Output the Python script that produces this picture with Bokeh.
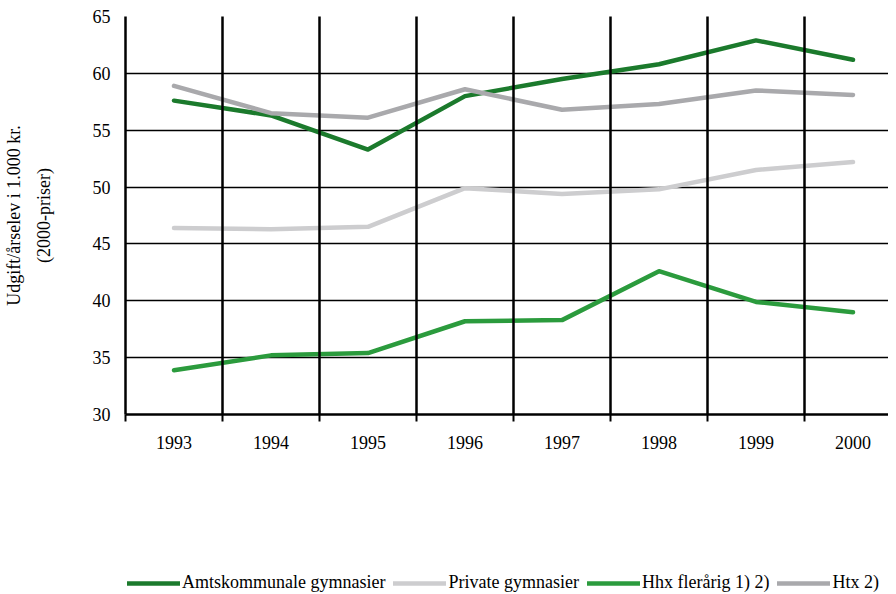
from bokeh.plotting import figure
from bokeh.layouts import column
from bokeh.models import FixedTicker, Legend, LegendItem, Range1d, Grid, ColumnDataSource
from bokeh.embed import file_html
from bokeh.resources import INLINE

years = [1993, 1994, 1995, 1996, 1997, 1998, 1999, 2000]
amtskommunale = [57.6, 56.3, 53.3, 58.0, 59.5, 60.8, 62.9, 61.2]
private = [46.4, 46.3, 46.5, 49.9, 49.4, 49.8, 51.5, 52.2]
hhx = [33.9, 35.2, 35.4, 38.2, 38.3, 42.6, 39.9, 39.0]
htx = [58.9, 56.5, 56.1, 58.6, 56.8, 57.3, 58.5, 58.1]
series_names = ["Amtskommunale gymnasier", "Private gymnasier", "Hhx flerårig 1) 2)", "Htx 2)"]
y_ticks = [30, 35, 40, 45, 50, 55, 60, 65]

colors = ["#1b7a2c", "#cdcdcf", "#2b9b3d", "#a9a9ac"]
FONT = "Liberation Serif"

p = figure(width=888, height=571, output_backend="svg", toolbar_location=None,
           x_range=Range1d(years[0] - 0.5, years[0] - 0.5 + 763 / 97.0), y_range=Range1d(30, 65),
           min_border_left=125, min_border_right=0, min_border_top=16, min_border_bottom=157)
p.outline_line_color = None
p.background_fill_color = "white"

boundaries = [y - 0.5 for y in years] + [years[-1] + 0.5]

# x axis
p.xaxis.ticker = FixedTicker(ticks=years, minor_ticks=boundaries)
p.xaxis.major_tick_line_color = None
p.xaxis.major_tick_out = 7
p.xaxis.major_tick_in = 0
p.xaxis.minor_tick_line_color = "black"
p.xaxis.minor_tick_line_width = 2
p.xaxis.minor_tick_out = 7
p.xaxis.minor_tick_in = 0
p.xaxis.axis_line_color = "black"
p.xaxis.axis_line_width = 2.5
p.xaxis.major_label_text_font = FONT
p.xaxis.major_label_text_font_size = "18px"
p.xaxis.major_label_text_color = "black"
p.xaxis.major_label_standoff = 14

# y axis
p.yaxis.ticker = FixedTicker(ticks=y_ticks)
p.yaxis.major_tick_line_color = None
p.yaxis.major_tick_out = 0
p.yaxis.minor_tick_line_color = None
p.yaxis.axis_line_color = "black"
p.yaxis.axis_line_width = 2.5
p.yaxis.major_label_text_font = FONT
p.yaxis.major_label_text_font_size = "18px"
p.yaxis.major_label_text_color = "black"
p.yaxis.major_label_standoff = 15
p.yaxis.axis_label = "Udgift/årselev i 1.000 kr.\n(2000-priser)"
p.yaxis.axis_label_text_font = FONT
p.yaxis.axis_label_text_font_size = "18px"
p.yaxis.axis_label_text_font_style = "normal"
p.yaxis.axis_label_text_color = "black"
p.yaxis.axis_label_text_line_height = 1.5
p.yaxis.axis_label_standoff = 36

# grids
p.xgrid.grid_line_color = None
p.ygrid.grid_line_color = "black"
p.ygrid.grid_line_width = 1.3
p.ygrid.ticker = FixedTicker(ticks=y_ticks)

vgrid = Grid(dimension=0, ticker=FixedTicker(ticks=boundaries), grid_line_color="black",
             grid_line_width=2.5, level="annotation")
p.add_layout(vgrid)

sources = []
for vals, c in zip([amtskommunale, private, hhx, htx], colors):
    src = ColumnDataSource(dict(x=years, y=vals))
    sources.append(src)
    p.line("x", "y", source=src, line_color=c, line_width=4.5, line_join="round", line_cap="round")

# legend strip below the chart (its frame is aligned with the chart's frame)
leg_fig = figure(width=888, height=22, output_backend="svg", toolbar_location=None,
                 x_range=Range1d(0, 1), y_range=Range1d(0, 1),
                 min_border_left=0, min_border_right=0, min_border_top=0, min_border_bottom=0)
leg_fig.axis.visible = False
leg_fig.grid.visible = False
leg_fig.outline_line_color = None
leg_renderers = []
for src, c in zip(sources, colors):
    r = leg_fig.line("x", "y", source=src, line_color=c, line_width=4.5, line_cap="round")
    leg_renderers.append(r)

legend = Legend(items=[LegendItem(label=n, renderers=[r]) for n, r in zip(series_names, leg_renderers)],
                orientation="horizontal", location=(2, 0),
                glyph_width=53, glyph_height=18, label_standoff=2, spacing=8,
                padding=0, margin=0, border_line_color=None, background_fill_alpha=0,
                label_text_font=FONT, label_text_font_size="18px", label_text_color="black",
                label_height=18)
leg_fig.add_layout(legend, "center")

layout = column(p, leg_fig, spacing=0)
open("out.html", "w").write(file_html(layout, INLINE))
